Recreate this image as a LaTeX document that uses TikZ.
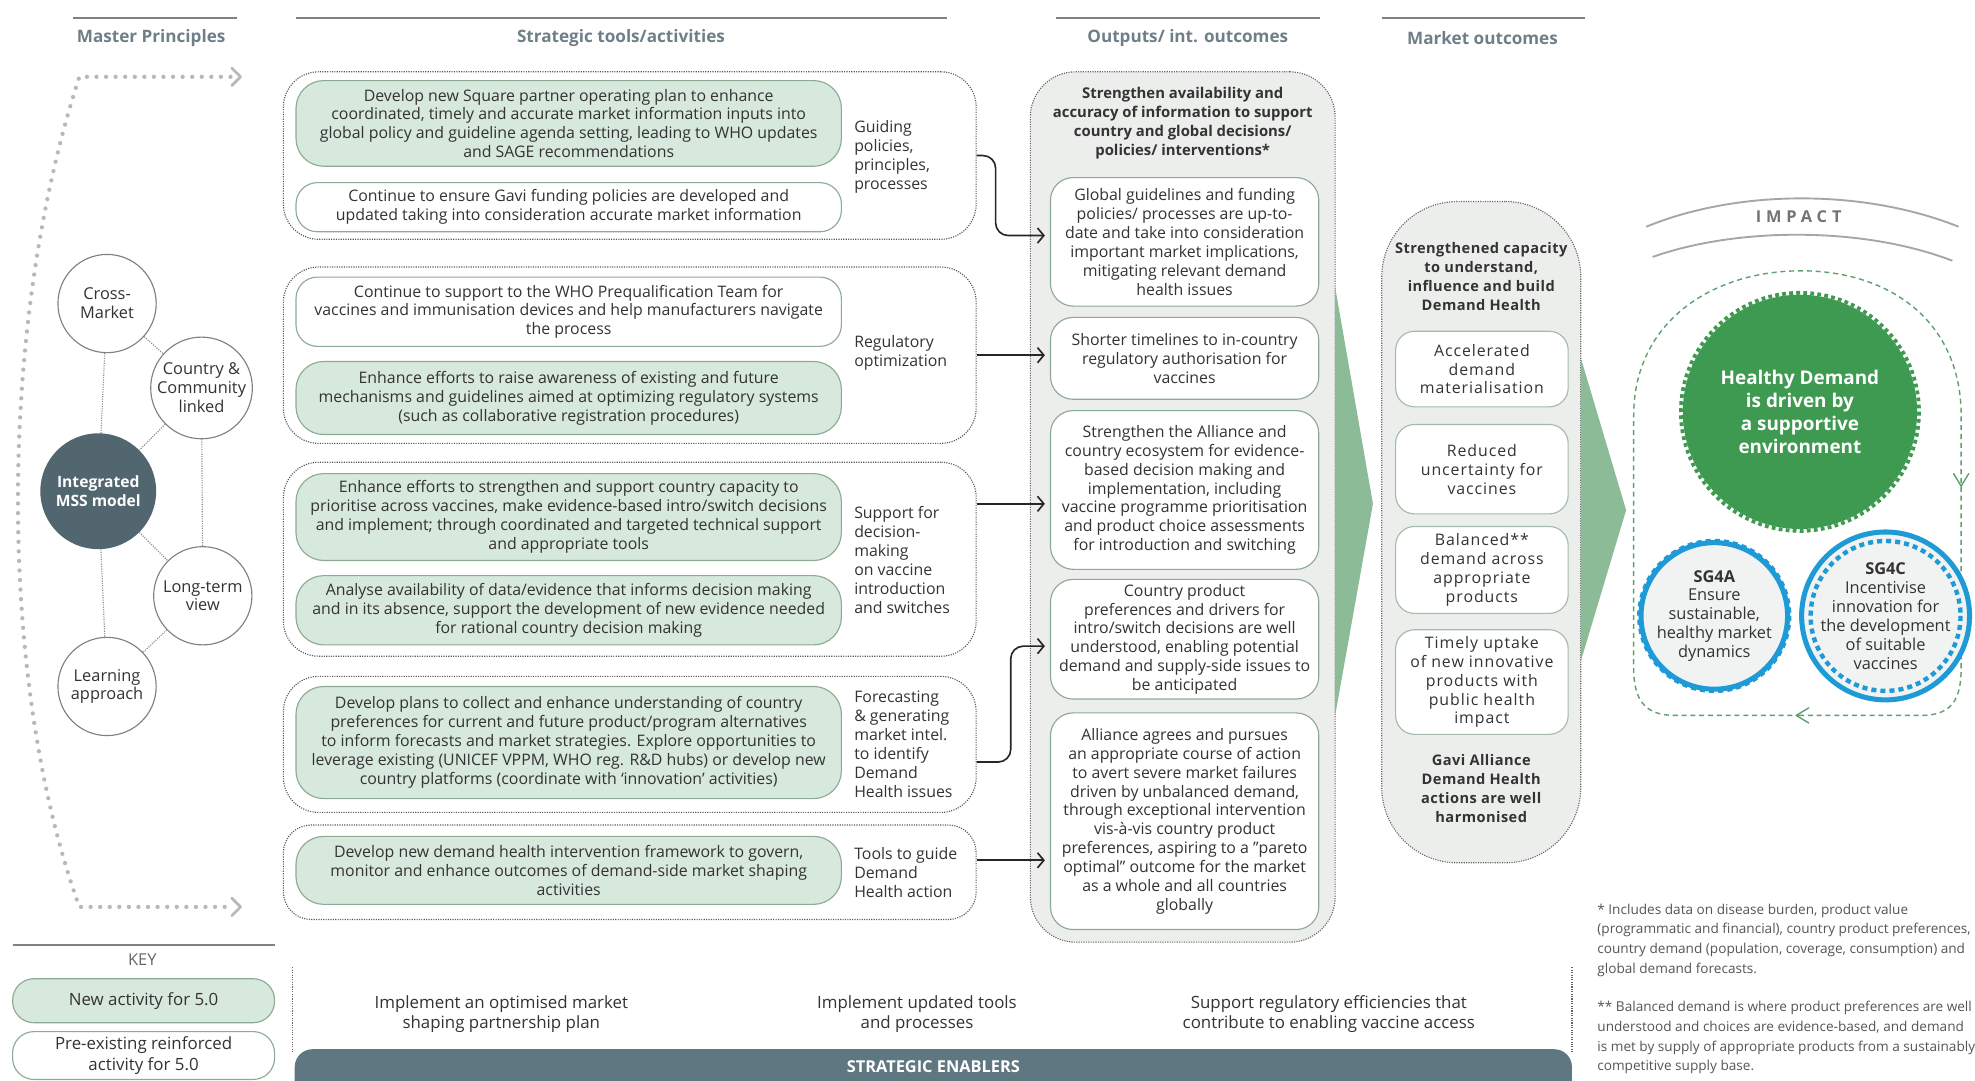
\documentclass[tikz,border=0pt]{standalone}
\usepackage{fontspec}
\setmainfont{Open Sans}
\usetikzlibrary{arrows.meta}
\definecolor{hdr}{HTML}{6E7F87}
\definecolor{gfill}{HTML}{D7E8DC}
\definecolor{gedge}{HTML}{8DAA95}
\definecolor{txt}{HTML}{333333}
\definecolor{panel}{HTML}{ECEEEC}
\definecolor{slate}{HTML}{5F7780}
\definecolor{dkc}{HTML}{51666F}
\definecolor{wedge}{HTML}{8CBB98}
\definecolor{hgreen}{HTML}{3E9A50}
\definecolor{sgblue}{HTML}{1E9AD6}
\definecolor{sgfill}{HTML}{F1F2F2}
\definecolor{loopg}{HTML}{5DA06C}
\definecolor{fnote}{HTML}{555555}
\tikzset{
  hline/.style={draw=black!50, line width=1.6pt},
  hdrtxt/.style={font=\fontsize{13.6}{16}\selectfont\bfseries, text=hdr},
  body/.style={font=\fontsize{12.6}{15}\selectfont, text=txt, align=center, inner sep=0pt},
  gbox/.style={body, draw=gedge, line width=0.9pt, fill=gfill, rounded corners=22pt},
  wbox/.style={body, draw=gedge, line width=0.9pt, fill=white, rounded corners=17pt},
  grp/.style={draw=black!65, densely dotted, line width=0.9pt, rounded corners=28pt, inner sep=0pt},
  lbl/.style={body, align=left, anchor=west},
  conn/.style={draw=black!85, line width=1.3pt, -{Straight Barb[length=5pt,width=12pt]}, shorten >=4pt},
  pcirc/.style={circle, draw=black!50, line width=0.9pt, fill=white, inner sep=0pt, minimum size=78pt, font=\fontsize{13}{15}\selectfont, text=txt, align=center},
  plink/.style={draw=black!45, densely dotted, line width=0.9pt},
  mdot/.style={draw=black!28, line width=3.4pt, line cap=round, dash pattern=on 0pt off 7.6pt},
  mchev/.style={draw=black!28, line width=2.2pt, line cap=round, line join=round},
  panelbox/.style={draw=black!60, densely dotted, line width=0.9pt, fill=panel, inner sep=0pt},
  obox/.style={body, draw=gedge, line width=0.9pt, fill=white, rounded corners=18pt},
  boldtxt/.style={body, font=\fontsize{11.8}{15}\selectfont\bfseries},
  mboldtxt/.style={body, font=\fontsize{11.6}{15}\selectfont\bfseries\addfontfeature{LetterSpace=3}},
  mbox/.style={body, font=\fontsize{12.6}{15}\selectfont\addfontfeature{LetterSpace=6}, draw=gedge!80, line width=0.9pt, fill=white, rounded corners=15pt},
  fntxt/.style={font=\fontsize{10.8}{15.6}\selectfont, text=fnote, align=left, anchor=west, inner sep=0pt},
  entxt/.style={font=\fontsize{13.4}{16}\selectfont, text=txt, align=center, inner sep=0pt},
  keybox/.style={body, font=\fontsize{13.4}{16}\selectfont, draw=gedge, line width=0.9pt, rounded corners=17pt, minimum width=208pt},
  sgc/.style={circle, draw=sgblue, line width=4pt, fill=sgfill, minimum size=112pt, inner sep=0pt, font=\fontsize{13}{15}\selectfont, text=txt, align=center},
  loopline/.style={draw=loopg, line width=1.1pt, dash pattern=on 4pt off 3pt},
  loopchev/.style={draw=loopg, line width=1.1pt, line cap=round, line join=round},
}
\begin{document}
\begin{tikzpicture}[x=1pt,y=-1pt]
\useasboundingbox (0,0) rectangle (1568,858);

% ---------- column headers ----------
\draw[hline] (58,14) -- (188,14);
\node[hdrtxt] (hmp) at (120,30) {Master Principles};
\draw[hline] (235,14) -- (752,14);
\node[hdrtxt] (hst) at (493,30) {Strategic tools/activities};
\draw[hline] (838,14) -- (1048,14);
\node[hdrtxt] (hout) at (943,30) {Outputs/ int. outcomes};
\draw[hline] (1097,14) -- (1258,14);
\node[hdrtxt] (hmk) at (1177,30) {Market outcomes};

% ---------- master principles frame ----------
\coordinate (mt0) at (63,61);
\coordinate (mt1) at (183,61);
\coordinate (mb0) at (63,720);
\coordinate (mb1) at (183,720);
\draw[mdot] (mt1) -- (mt0) .. controls (-2,260) and (-2,540) .. (mb0) -- (mb1);
\draw[mchev] (184,54) -- (191,61) -- (184,68);
\draw[mchev] (184,713) -- (191,720) -- (184,727);

\node[pcirc] (cm) at (85,241) {Cross-\\Market};
\node[pcirc] (cc) at (160,308) {Country \&\\Community\\linked};
\node[circle, fill=dkc, minimum size=92pt, inner sep=0pt, font=\fontsize{12.4}{15}\selectfont\bfseries, text=white, align=center] (im) at (78,390) {Integrated\\MSS model};
\node[pcirc] (lt) at (161,473) {Long-term\\view};
\node[pcirc] (la) at (85,545) {Learning\\approach};
\draw[plink] (cm) -- (cc);
\draw[plink] (cm) -- (im);
\draw[plink] (cc) -- (im);
\draw[plink] (cc) -- (lt);
\draw[plink] (im) -- (lt);
\draw[plink] (im) -- (la);
\draw[plink] (lt) -- (la);

% ---------- strategic tools groups ----------
\node[grp, minimum width=550pt, minimum height=133pt] (g1) at (500,123.5) {};
\node[grp, minimum width=550pt, minimum height=140pt] (g2) at (500,282) {};
\node[grp, minimum width=550pt, minimum height=154pt] (g3) at (500,444) {};
\node[grp, minimum width=550pt, minimum height=108pt] (g4) at (500,591) {};
\node[grp, minimum width=550pt, minimum height=75pt, rounded corners=22pt] (g5) at (500,692.5) {};

\node[gbox, minimum width=433pt, minimum height=68pt] (b1) at (451.5,98) {Develop new Square partner operating plan to enhance\\coordinated, timely and accurate market information inputs into\\global policy and guideline agenda setting, leading to WHO updates\\and SAGE recommendations};
\node[wbox, minimum width=433pt, minimum height=39pt] (b2) at (451.5,164.5) {Continue to ensure Gavi funding policies are developed and\\updated taking into consideration accurate market information};
\node[wbox, minimum width=433pt, minimum height=55pt] (b3) at (451.5,247.5) {Continue to support to the WHO Prequalification Team for\\vaccines and immunisation devices and help manufacturers navigate\\the process};
\node[gbox, minimum width=433pt, minimum height=58pt] (b4) at (451.5,316) {Enhance efforts to raise awareness of existing and future\\mechanisms and guidelines aimed at optimizing regulatory systems\\(such as collaborative registration procedures)};
\node[gbox, minimum width=433pt, minimum height=69pt] (b5) at (451.5,410.5) {Enhance efforts to strengthen and support country capacity to\\prioritise across vaccines, make evidence-based intro/switch decisions\\and implement; through coordinated and targeted technical support\\and appropriate tools};
\node[gbox, minimum width=433pt, minimum height=55pt] (b6) at (451.5,484.5) {Analyse availability of data/evidence that informs decision making\\and in its absence, support the development of new evidence needed\\for rational country decision making};
\node[gbox, minimum width=433pt, minimum height=89pt] (b7) at (451.5,589.5) {Develop plans to collect and enhance understanding of country\\preferences for current and future product/program alternatives\\to inform forecasts and market strategies. Explore opportunities to\\leverage existing (UNICEF VPPM, WHO reg. R\&D hubs) or develop new\\country platforms (coordinate with ‘innovation’ activities)};
\node[gbox, minimum width=433pt, minimum height=54pt] (b8) at (451.5,691) {Develop new demand health intervention framework to govern,\\monitor and enhance outcomes of demand-side market shaping\\activities};

\node[lbl] (l1) at (678,124.5) {Guiding\\policies,\\principles,\\processes};
\node[lbl] (l2) at (678,280.5) {Regulatory\\optimization};
\node[lbl] (l3) at (678,444.5) {Support for\\decision-\\making\\on vaccine\\introduction\\and switches};
\node[lbl] (l4) at (678,591) {Forecasting\\\& generating\\market intel.\\to identify\\Demand\\Health issues};
\node[lbl] (l5) at (678,693) {Tools to guide\\Demand\\Health action};

% ---------- outputs panel ----------
\node[panelbox, minimum width=242pt, minimum height=691pt, rounded corners=36pt] (op) at (939,402.5) {};
\fill[wedge] (1060,228) -- (1090,400) -- (1060,568) -- cycle;
\node[boldtxt] (oh) at (939,97.5) {Strengthen availability and\\accuracy of information to support\\country and global decisions/\\policies/ interventions*};
\node[obox, minimum width=213pt, minimum height=102pt] (o1) at (940.5,192) {Global guidelines and funding\\policies/ processes are up-to-\\date and take into consideration\\important market implications,\\mitigating relevant demand\\health issues};
\node[obox, minimum width=213pt, minimum height=65pt] (o2) at (940.5,284.5) {Shorter timelines to in-country\\regulatory authorisation for\\vaccines};
\node[obox, minimum width=213pt, minimum height=126pt] (o3) at (940.5,389) {Strengthen the Alliance and\\country ecosystem for evidence-\\based decision making and\\implementation, including\\vaccine programme prioritisation\\and product choice assessments\\for introduction and switching};
\node[obox, minimum width=213pt, minimum height=95pt] (o4) at (940.5,507.5) {Country product\\preferences and drivers for\\intro/switch decisions are well\\understood, enabling potential\\demand and supply-side issues to\\be anticipated};
\node[obox, minimum width=213pt, minimum height=172pt] (o5) at (940.5,652) {Alliance agrees and pursues\\an appropriate course of action\\to avert severe market failures\\driven by unbalanced demand,\\through exceptional intervention\\vis-à-vis country product\\preferences, aspiring to a "pareto\\optimal" outcome for the market\\as a whole and all countries\\globally};

% ---------- connectors tools -> outputs ----------
\draw[conn, rounded corners=10pt] (g1.east) -- ++(15,0) |- ([yshift=5pt]o1.west);
\coordinate (g2o) at (g2.east);
\draw[conn] (g2o) -- (g2o -| o2.west);
\coordinate (g3o) at ([yshift=44pt]g3.east);
\draw[conn] (g3o) -- (g3o -| o3.west);
\draw[conn, rounded corners=10pt] ([yshift=-14pt]g4.east) -- ++(27,0) |- ([yshift=-5.5pt]o4.west);
\coordinate (g5o) at ([yshift=9.5pt]g5.east);
\draw[conn] (g5o) -- (g5o -| o5.west);

% ---------- market outcomes panel ----------
\node[panelbox, minimum width=158pt, minimum height=525pt, rounded corners=60pt] (mp) at (1176,422.5) {};
\fill[wedge] (1255,284) -- (1291,405) -- (1255,525) -- cycle;
\node[mboldtxt] (mh) at (1176,219.5) {Strengthened capacity\\to understand,\\influence and build\\Demand Health};
\node[mbox, minimum width=137pt, minimum height=60pt] (m1) at (1176.5,293) {Accelerated\\demand\\materialisation};
\node[mbox, minimum width=137pt, minimum height=71pt] (m2) at (1176.5,372.5) {Reduced\\uncertainty for\\vaccines};
\node[mbox, minimum width=137pt, minimum height=69pt] (m3) at (1176.5,452.5) {Balanced**\\demand across\\appropriate\\products};
\node[mbox, minimum width=137pt, minimum height=83pt] (m4) at (1176.5,541.5) {Timely uptake\\of new innovative\\products with\\public health\\impact};
\node[mboldtxt] (mf) at (1176,626) {Gavi Alliance\\Demand Health\\actions are well\\harmonised};

% ---------- impact ----------
\draw[draw=black!35, line width=1.5pt] (1307,180) .. controls (1380,150) and (1480,150) .. (1555,180);
\draw[draw=black!35, line width=1.5pt] (1312,204) .. controls (1380,180) and (1480,180) .. (1550,207);
\node[font=\fontsize{13}{15}\selectfont\bfseries\addfontfeature{LetterSpace=30}, text=black!55] (imp) at (1428,172) {IMPACT};

\draw[loopline] (1430,568) -- (1330,568) .. controls (1305,568) and (1297,555) .. (1297,530) -- (1297,330) .. controls (1297,255) and (1360,215) .. (1430,215) .. controls (1500,215) and (1557,255) .. (1557,330) -- (1557,530) .. controls (1557,555) and (1550,568) .. (1525,568) -- cycle;
\draw[loopchev] (1551,376) -- (1557,386) -- (1563,376);
\draw[loopchev] (1436,562) -- (1426,568) -- (1436,574);

\node[circle, fill=hgreen, minimum size=186pt, inner sep=0pt, font=\fontsize{15}{18.5}\selectfont\bfseries, text=white, align=center] (hd) at (1429,327) {Healthy Demand\\is driven by\\a supportive\\environment};
\draw[hgreen, line width=3pt, dash pattern=on 3pt off 2.6pt] (hd.center) circle[radius=94.5];

\node[sgc] (sga) at (1361,489) {\textbf{SG4A}\\Ensure\\sustainable,\\healthy market\\dynamics};
\draw[sgblue, line width=3.5pt, dash pattern=on 4pt off 3.2pt] (sga.center) circle[radius=59.5];
\node[sgc] (sgc4) at (1497,489) {\textbf{SG4C}\\Incentivise\\innovation for\\the development\\of suitable\\vaccines};
\draw[sgblue, line width=3.5pt, dash pattern=on 4pt off 3.2pt] (sgc4.center) circle[radius=59.5];

% ---------- footnotes ----------
\node[fntxt] (fn1) at (1268,746.5) {* Includes data on disease burden, product value\\(programmatic and financial), country product preferences,\\country demand (population, coverage, consumption) and\\global demand forecasts.};
\node[fntxt] (fn2) at (1268,824) {** Balanced demand is where product preferences are well\\understood and choices are evidence-based, and demand\\is met by supply of appropriate products from a sustainably\\competitive supply base.};

% ---------- key ----------
\draw[hline] (10,750) -- (218,750);
\node[font=\fontsize{13}{15}\selectfont, text=black!60] (key) at (113,762) {KEY};
\node[keybox, fill=gfill, minimum height=35pt] (k1) at (114,794.5) {New activity for 5.0};
\node[keybox, fill=white, minimum height=38pt] (k2) at (114,838) {Pre-existing reinforced\\activity for 5.0};

% ---------- strategic enablers ----------
\draw[black!60, densely dotted, line width=0.9pt] (232,768) -- (232,835);
\draw[black!60, densely dotted, line width=0.9pt] (1248,768) -- (1248,835);
\node[entxt] (e1) at (398,805) {Implement an optimised market\\shaping partnership plan};
\node[entxt] (e2) at (728,805) {Implement updated tools\\and processes};
\node[entxt] (e3) at (1055,805) {Support regulatory efficiencies that\\contribute to enabling vaccine access};
\fill[slate, rounded corners=14pt] (234,833) rectangle (1248,885);
\node[font=\fontsize{13}{15}\selectfont\bfseries, text=white] (se) at (741,847) {STRATEGIC ENABLERS};
\end{tikzpicture}
\end{document}
